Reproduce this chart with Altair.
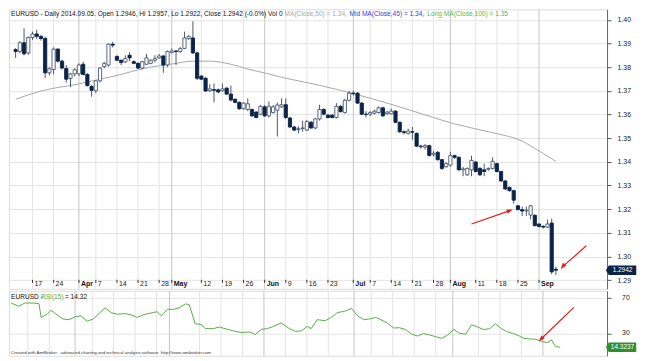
import altair as alt
import pandas as pd

# ---------------- data ----------------
# trading-day index 0 = 2014-03-11 ... 128 = 2014-09-05
opens = [1.3874, 1.3866, 1.3903, 1.3860, 1.3925, 1.3940, 1.3930, 1.3921, 1.3776, 1.3790,
         1.3876, 1.3825, 1.3794, 1.3752, 1.3771, 1.3772, 1.3812, 1.3769, 1.3718, 1.3700,
         1.3742, 1.3802, 1.3809, 1.3897, 1.3845, 1.3829, 1.3822, 1.3850, 1.3823, 1.3816,
         1.3796, 1.3812, 1.3816, 1.3829, 1.3839, 1.3847, 1.3809, 1.3862, 1.3868, 1.3866,
         1.3879, 1.3920, 1.3923, 1.3860, 1.3762, 1.3753, 1.3700, 1.3705, 1.3704, 1.3700,
         1.3711, 1.3686, 1.3664, 1.3651, 1.3624, 1.3621, 1.3621, 1.3610, 1.3601, 1.3632,
         1.3594, 1.3608, 1.3618, 1.3632, 1.3641, 1.3585, 1.3547, 1.3536, 1.3541, 1.3534,
         1.3567, 1.3543, 1.3581, 1.3621, 1.3597, 1.3597, 1.3587, 1.3634, 1.3608, 1.3660,
         1.3690, 1.3690, 1.3648, 1.3601, 1.3601, 1.3605, 1.3608, 1.3628, 1.3603, 1.3603,
         1.3614, 1.3567, 1.3527, 1.3520, 1.3527, 1.3520, 1.3466, 1.3462, 1.3468, 1.3430,
         1.3440, 1.3409, 1.3379, 1.3386, 1.3426, 1.3419, 1.3366, 1.3345, 1.3366, 1.3399,
         1.3372, 1.3366, 1.3368, 1.3372, 1.3392, 1.3359, 1.3319, 1.3292, 1.3278, 1.3214,
         1.3198, 1.3192, 1.3175, 1.3174, 1.3137, 1.3127, 1.3124, 1.3141, 1.2946]
highs = [1.3880, 1.3910, 1.3964, 1.3930, 1.3950, 1.3958, 1.3935, 1.3928, 1.3800, 1.3883,
         1.3880, 1.3832, 1.3809, 1.3775, 1.3795, 1.3816, 1.3823, 1.3775, 1.3725, 1.3745,
         1.3800, 1.3822, 1.3900, 1.3906, 1.3850, 1.3832, 1.3850, 1.3863, 1.3828, 1.3820,
         1.3826, 1.3856, 1.3833, 1.3850, 1.3855, 1.3850, 1.3870, 1.3879, 1.3872, 1.3885,
         1.3950, 1.3935, 1.3993, 1.3865, 1.3766, 1.3758, 1.3728, 1.3731, 1.3710, 1.3731,
         1.3715, 1.3722, 1.3668, 1.3655, 1.3651, 1.3668, 1.3625, 1.3614, 1.3640, 1.3640,
         1.3655, 1.3640, 1.3650, 1.3668, 1.3668, 1.3590, 1.3552, 1.3550, 1.3574, 1.3577,
         1.3572, 1.3586, 1.3641, 1.3626, 1.3603, 1.3601, 1.3648, 1.3640, 1.3665, 1.3700,
         1.3700, 1.3694, 1.3652, 1.3614, 1.3615, 1.3620, 1.3634, 1.3632, 1.3615, 1.3625,
         1.3618, 1.3570, 1.3532, 1.3540, 1.3547, 1.3524, 1.3472, 1.3475, 1.3472, 1.3445,
         1.3445, 1.3412, 1.3398, 1.3442, 1.3430, 1.3422, 1.3379, 1.3376, 1.3426, 1.3404,
         1.3378, 1.3392, 1.3376, 1.3419, 1.3396, 1.3362, 1.3322, 1.3296, 1.3282, 1.3218,
         1.3211, 1.3211, 1.3218, 1.3178, 1.3140, 1.3132, 1.3156, 1.3160, 1.2957]
lows = [1.3839, 1.3858, 1.3850, 1.3852, 1.3915, 1.3918, 1.3912, 1.3753, 1.3765, 1.3769,
        1.3820, 1.3790, 1.3735, 1.3715, 1.3760, 1.3762, 1.3765, 1.3718, 1.3675, 1.3690,
        1.3735, 1.3795, 1.3802, 1.3883, 1.3826, 1.3809, 1.3818, 1.3825, 1.3812, 1.3792,
        1.3790, 1.3809, 1.3812, 1.3820, 1.3835, 1.3776, 1.3800, 1.3858, 1.3809, 1.3860,
        1.3876, 1.3915, 1.3856, 1.3745, 1.3745, 1.3695, 1.3695, 1.3651, 1.3690, 1.3696,
        1.3683, 1.3655, 1.3647, 1.3620, 1.3620, 1.3614, 1.3590, 1.3584, 1.3597, 1.3590,
        1.3587, 1.3604, 1.3507, 1.3628, 1.3581, 1.3543, 1.3530, 1.3520, 1.3527, 1.3530,
        1.3540, 1.3538, 1.3574, 1.3598, 1.3583, 1.3584, 1.3583, 1.3608, 1.3604, 1.3655,
        1.3680, 1.3644, 1.3597, 1.3587, 1.3592, 1.3600, 1.3604, 1.3590, 1.3598, 1.3600,
        1.3563, 1.3522, 1.3515, 1.3515, 1.3493, 1.3462, 1.3455, 1.3452, 1.3422, 1.3422,
        1.3405, 1.3366, 1.3375, 1.3380, 1.3412, 1.3362, 1.3339, 1.3340, 1.3339, 1.3355,
        1.3340, 1.3339, 1.3362, 1.3368, 1.3355, 1.3315, 1.3282, 1.3274, 1.3224, 1.3195,
        1.3171, 1.3171, 1.3157, 1.3127, 1.3122, 1.3118, 1.3120, 1.2925, 1.2922]
closes = [1.3866, 1.3903, 1.3856, 1.3925, 1.3940, 1.3930, 1.3921, 1.3776, 1.3793, 1.3876,
          1.3825, 1.3796, 1.3749, 1.3771, 1.3789, 1.3809, 1.3769, 1.3722, 1.3702, 1.3742,
          1.3796, 1.3816, 1.3897, 1.3893, 1.3829, 1.3820, 1.3836, 1.3839, 1.3816, 1.3796,
          1.3823, 1.3839, 1.3829, 1.3836, 1.3847, 1.3809, 1.3866, 1.3868, 1.3866, 1.3878,
          1.3923, 1.3930, 1.3860, 1.3753, 1.3749, 1.3699, 1.3708, 1.3702, 1.3695, 1.3708,
          1.3686, 1.3661, 1.3651, 1.3624, 1.3648, 1.3645, 1.3594, 1.3587, 1.3634, 1.3594,
          1.3634, 1.3632, 1.3640, 1.3641, 1.3587, 1.3547, 1.3534, 1.3540, 1.3543, 1.3570,
          1.3543, 1.3581, 1.3621, 1.3601, 1.3587, 1.3587, 1.3634, 1.3612, 1.3660, 1.3690,
          1.3688, 1.3648, 1.3601, 1.3600, 1.3608, 1.3614, 1.3628, 1.3594, 1.3610, 1.3614,
          1.3567, 1.3527, 1.3524, 1.3530, 1.3525, 1.3466, 1.3464, 1.3468, 1.3427, 1.3436,
          1.3409, 1.3372, 1.3392, 1.3426, 1.3419, 1.3366, 1.3370, 1.3372, 1.3406, 1.3359,
          1.3345, 1.3359, 1.3372, 1.3402, 1.3359, 1.3319, 1.3285, 1.3278, 1.3238, 1.3198,
          1.3192, 1.3196, 1.3214, 1.3130, 1.3127, 1.3124, 1.3137, 1.2935, 1.2942]
day_idx = list(range(len(opens)))

# moving average (gray line)
ma_k = [0, 6, 15, 20, 25, 30, 33, 37, 42, 46, 51, 55, 60, 64, 67, 77, 80, 88, 99, 104, 112, 120, 124, 128]
ma_v = [1.3664, 1.3699, 1.3729, 1.3749, 1.3769, 1.3793, 1.3803, 1.3813, 1.3825, 1.3825, 1.3812,
        1.3792, 1.3771, 1.3753, 1.3742, 1.3702, 1.3688, 1.3648, 1.3587, 1.3560, 1.3527, 1.3487,
        1.3446, 1.3402]

# RSI(15)
rsi_k = [0.1, 1.9, 3.3, 5.2, 6.6, 7.1, 8.5, 9.4, 10.8, 12.2, 13.6, 15, 16.4, 17.8, 19.2, 20.6, 22,
         23.4, 24.8, 26.7, 28, 29.5, 31.3, 33.2, 34.1, 35.1, 36.5, 37.9, 39.3, 40.7, 41.6, 43, 44.4,
         45.3, 47.2, 48.6, 50.5, 51.9, 53.7, 55.6, 57, 58.4, 59.8, 61.2, 63, 64.9, 66.3, 67.7, 69.1,
         70, 71.4, 73.3, 74.7, 76.1, 78, 79.4, 80.8, 82.2, 83.6, 85, 86.4, 87.8, 89.2, 90.6, 92,
         93.4, 94.8, 96.2, 97.6, 99, 100.4, 101.8, 103.2, 104.6, 106, 107.4, 108.8, 110.2, 111.6,
         112.9, 114.3, 115.7, 117.1, 118.5, 119.5, 120.9, 122.3, 123.7, 125.1, 126, 126.9, 128]
rsi_v = [64.5, 60.9, 64.5, 64.5, 63.8, 48.2, 51.8, 56.2, 51.1, 46.4, 45.6, 48.9, 50, 43.8, 46.4,
         52.5, 59.1, 53.6, 51.8, 52.5, 51.1, 48.2, 51.8, 53.6, 54.7, 50, 57.3, 57.3, 59.1, 63.5,
         62.7, 40.9, 40.2, 35.5, 35.5, 37.3, 34.7, 32.9, 31.1, 31.8, 28.9, 34.7, 35.5, 38, 42, 35.5,
         32.5, 32.9, 38, 35.5, 45.6, 44.5, 48.2, 53.6, 55.5, 58.4, 50, 45.6, 46.4, 48.2, 45.3, 41.6,
         36.2, 36.5, 34.4, 29.3, 27.1, 30, 28.2, 26.4, 24.5, 28.2, 34.7, 30, 29.3, 39.8, 37.3, 34.4,
         35.5, 40.9, 35.5, 31.8, 30, 27.1, 24.5, 23.8, 23.5, 20.9, 19.8, 22.7, 15.5, 14.32]

# date axis labels
tick_k = [4, 9, 15, 19, 24, 29, 34, 37, 44, 49, 54, 59, 64, 69, 74, 80, 84, 89, 94, 99, 103, 109, 114, 119, 124]
tick_lbl = ["17", "24", "Apr", "7", "14", "21", "28", "May", "12", "19", "26", "Jun", "9", "16", "23",
            "Jul", "7", "14", "21", "28", "Aug", "11", "18", "25", "Sep"]
tick_month = [l.isalpha() for l in tick_lbl]

price_ticks = [1.29, 1.30, 1.31, 1.32, 1.33, 1.34, 1.35, 1.36, 1.37, 1.38, 1.39, 1.40]
rsi_ticks = [30, 70]
last_close = 1.2942
last_rsi = 14.3237

# annotation arrows (start -> end, in data units)
arrows_price = [{"k1": 108.0, "p1": 1.3137, "k2": 117.1, "p2": 1.3194, "ang": 71},
                {"k1": 135.2, "p1": 1.3045, "k2": 129.6, "p2": 1.2957, "ang": 218}]
arrows_rsi = [{"k1": 131.2, "p1": 59.5, "k2": 123.5, "p2": 23.5, "ang": 226}]

# ---------------- layout / style ----------------
W, H1, H2 = 599, 280, 65
xs = alt.Scale(domain=[-0.385, 138.93], nice=False, zero=False)
ys = alt.Scale(domain=[1.28633, 1.40443], nice=False, zero=False)
rs = alt.Scale(domain=[4.8, 78.3], nice=False, zero=False)
FONT = "Liberation Sans"
NAVY = "#0b2346"
EDGE = "#4a596e"
GRID = "#e4e4e4"
MGRID = "#c6c6c6"
RED = "#e0201c"
GREEN = "#5aad4a"

price_axis = alt.Axis(orient="right", values=price_ticks, format=".2f", title=None, grid=True,
                      gridColor=GRID, tickSize=4, tickColor="#555", domainColor="#666",
                      labelFontSize=7, labelColor="#222", labelPadding=6, labelFont=FONT,
                      labelOverlap=False)
rsi_axis = alt.Axis(orient="right", values=rsi_ticks, title=None, grid=True, labels=False,
                    gridColor=GRID, tickSize=4, tickColor="#555", domainColor="#666")

cdf = pd.DataFrame({"k": day_idx, "o": opens, "h": highs, "l": lows, "c": closes})
gdf = pd.DataFrame({"k": tick_k, "lbl": tick_lbl, "m": tick_month})
madf = pd.DataFrame({"k": ma_k, "v": ma_v})
rdf = pd.DataFrame({"k": rsi_k, "v": rsi_v})
rtdf = pd.DataFrame({"v": rsi_ticks, "t": [str(v) for v in rsi_ticks]})
X = lambda f="k:Q": alt.X(f, scale=xs, axis=None)

vgrid = alt.Chart(gdf).mark_rule(strokeWidth=1).encode(
    x=X(), color=alt.condition("datum.m", alt.value(MGRID), alt.value(GRID)))

wicks = alt.Chart(cdf).mark_rule(strokeWidth=1, color=EDGE).encode(
    x=X(), y=alt.Y("l:Q", scale=ys, axis=price_axis), y2="h:Q")

bodies = alt.Chart(cdf).mark_bar(size=3.2, strokeWidth=0.9).encode(
    x=X(), y=alt.Y("o:Q", scale=ys, axis=price_axis), y2="c:Q",
    fill=alt.condition("datum.c >= datum.o", alt.value("white"), alt.value(NAVY)),
    stroke=alt.condition("datum.c >= datum.o", alt.value(EDGE), alt.value(NAVY)))

ma = alt.Chart(madf).mark_line(color="#a9a9a9", strokeWidth=1, interpolate="monotone").encode(
    x=X(), y=alt.Y("v:Q", scale=ys, axis=price_axis))

# date labels in the bottom strip of the price pane
lab_ticks = alt.Chart(gdf).mark_rule(color="#333", strokeWidth=1).encode(
    x=X(), y=alt.value(H1 - 9), y2=alt.value(H1 - 6))
lab_norm = alt.Chart(gdf).transform_filter("!datum.m").mark_text(
    align="left", baseline="alphabetic", dx=2, fontSize=7, font=FONT, color="#222").encode(
    x=X(), y=alt.value(H1 - 3), text="lbl:N")
lab_month = alt.Chart(gdf).transform_filter("datum.m").mark_text(
    align="left", baseline="alphabetic", dx=2, fontSize=7, font=FONT, fontWeight="bold",
    color="#111").encode(x=X(), y=alt.value(H1 - 3), text="lbl:N")

def htext(t, x, color):
    return alt.Chart(pd.DataFrame({"t": [t]})).mark_text(
        align="left", baseline="middle", fontSize=6.6, font=FONT, color=color).encode(
        x=alt.value(x), y=alt.value(5), text="t:N")

header = (htext("EURUSD - Daily 2014.09.05. Open 1.2946, Hi 1.2957, Lo 1.2922, Close 1.2942 (-0.0%) Vol 0", 2, "#111")
          + htext("MA(Close,50) = 1.34,", 276, "#a8a8a8")
          + htext("Mid MA(Close,45) = 1.34,", 341, "#2f3fd8")
          + htext("Long MA(Close,100) = 1.35", 419, "#4cbb4c"))

BOX = "M -1.7 0 L -1.4 -0.5 L 1.5 -0.5 L 1.5 0.5 L -1.4 0.5 Z"
lpdf = pd.DataFrame({"p": [last_close], "t": [f"{last_close:.4f}"]})
pbox = alt.Chart(lpdf).mark_point(shape=BOX, filled=True, size=361, color=NAVY, opacity=1).encode(
    x=alt.value(W + 15), y=alt.Y("p:Q", scale=ys, axis=price_axis))
ptxt = alt.Chart(lpdf).mark_text(fontSize=6.5, font=FONT, color="white", align="center",
                                 baseline="middle").encode(
    x=alt.value(W + 15.5), y=alt.Y("p:Q", scale=ys, axis=price_axis), text="t:N")

apdf = pd.DataFrame(arrows_price)
ashaft = alt.Chart(apdf).mark_rule(color=RED, strokeWidth=1.2).encode(
    x=alt.X("k1:Q", scale=xs, axis=None), x2="k2:Q",
    y=alt.Y("p1:Q", scale=ys, axis=price_axis), y2="p2:Q")
ahead = alt.Chart(apdf).mark_point(shape="M 0 -1 L 0.7 1 L -0.7 1 Z", filled=True, size=40,
                                   color=RED, opacity=1).encode(
    x=alt.X("k2:Q", scale=xs, axis=None), y=alt.Y("p2:Q", scale=ys, axis=price_axis),
    angle=alt.Angle("ang:Q", scale=None))

price = alt.layer(vgrid, ma, wicks, bodies, lab_ticks, lab_norm, lab_month, header,
                  ashaft, ahead, pbox, ptxt).properties(width=W, height=H1)

# ---------------- RSI pane ----------------
rvgrid = alt.Chart(gdf).mark_rule(strokeWidth=1).encode(
    x=X(), color=alt.condition("datum.m", alt.value(MGRID), alt.value(GRID)))
rline = alt.Chart(rdf).mark_line(color=GREEN, strokeWidth=1).encode(
    x=X(), y=alt.Y("v:Q", scale=rs, axis=rsi_axis))
rlabels = alt.Chart(rtdf).mark_text(align="left", baseline="middle", fontSize=7, font=FONT,
                                    color="#222").encode(
    x=alt.value(W + 15), y=alt.Y("v:Q", scale=rs, axis=rsi_axis), text="t:N")

def rtext(t, x, color, y=6, size=6.6):
    return alt.Chart(pd.DataFrame({"t": [t]})).mark_text(
        align="left", baseline="middle", fontSize=size, font=FONT, color=color).encode(
        x=alt.value(x), y=alt.value(y), text="t:N")

rheader = rtext("EURUSD - ", 2, "#111") + rtext("RSI(15)", 32, GREEN) + rtext("= 14.32", 56, "#111")
credit = rtext("Created with AmiBroker - advanced charting and technical analysis software. http://www.amibroker.com",
               2, "#333", y=H2 - 3, size=4.4)

ardf = pd.DataFrame(arrows_rsi)
rshaft = alt.Chart(ardf).mark_rule(color=RED, strokeWidth=1.2).encode(
    x=alt.X("k1:Q", scale=xs, axis=None), x2="k2:Q",
    y=alt.Y("p1:Q", scale=rs, axis=rsi_axis), y2="p2:Q")
rhead = alt.Chart(ardf).mark_point(shape="M 0 -1 L 0.7 1 L -0.7 1 Z", filled=True, size=40,
                                   color=RED, opacity=1).encode(
    x=alt.X("k2:Q", scale=xs, axis=None), y=alt.Y("p2:Q", scale=rs, axis=rsi_axis),
    angle=alt.Angle("ang:Q", scale=None))

lrdf = pd.DataFrame({"p": [last_rsi], "t": [f"{last_rsi:.4f}"]})
rbox = alt.Chart(lrdf).mark_point(shape=BOX, filled=True, size=361, color="#2f8f2f", opacity=1).encode(
    x=alt.value(W + 15), y=alt.Y("p:Q", scale=rs, axis=rsi_axis))
rtxt = alt.Chart(lrdf).mark_text(fontSize=6.5, font=FONT, color="white", align="center",
                                 baseline="middle").encode(
    x=alt.value(W + 15.5), y=alt.Y("p:Q", scale=rs, axis=rsi_axis), text="t:N")

rsi = alt.layer(rvgrid, rline, rlabels, rheader, credit, rshaft, rhead, rbox, rtxt).properties(
    width=W, height=H2)

chart = alt.vconcat(price, rsi, spacing=0, padding=0).configure_view(
    stroke="#8c8c8c", strokeWidth=1).configure(background="white")

chart.save("out.html", embed_options={"renderer": "svg", "actions": False})
